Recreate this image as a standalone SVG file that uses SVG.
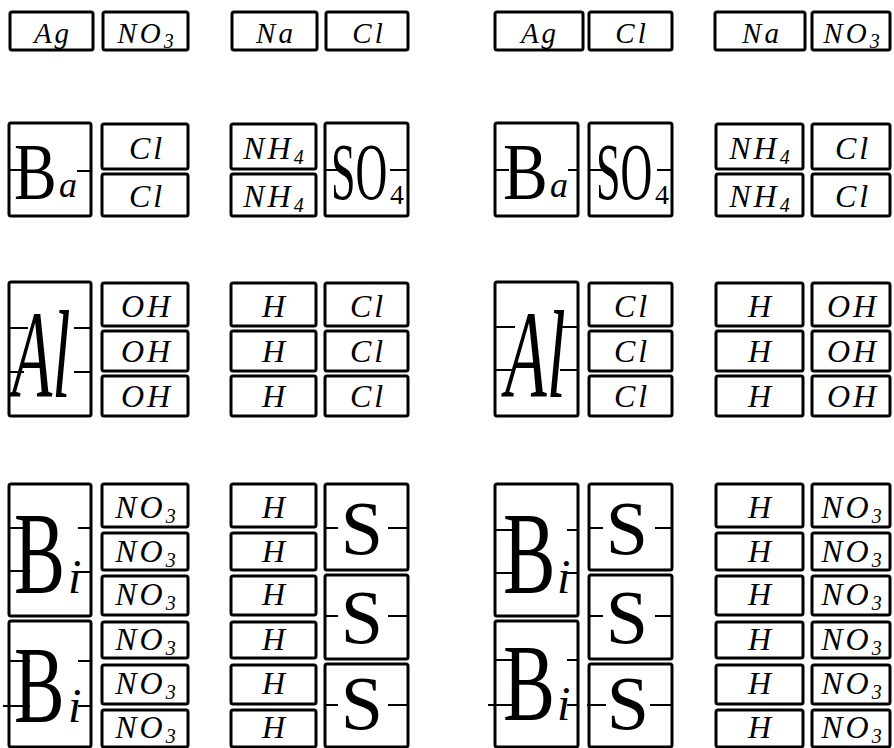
<svg xmlns="http://www.w3.org/2000/svg" width="894" height="748" viewBox="0 0 894 748">
<style>
.b{fill:#fff;stroke:#000;stroke-width:3}
.t{stroke:#000;stroke-width:2;fill:none}
.l{font-family:"Liberation Serif","DejaVu Serif",serif;font-style:italic;font-size:32px;text-anchor:middle;letter-spacing:3px;fill:#000}
.r1{font-size:29px}
.s{font-size:20px}
.g{font-family:"Liberation Serif","DejaVu Serif",serif;fill:#000}
.gi{font-family:"Liberation Serif","DejaVu Serif",serif;font-style:italic;fill:#000}
</style>
<rect width="894" height="748" fill="#fff"/>

<!-- Row 1 -->
<g id="r1-ag-l"><rect class="b" x="10" y="12" width="83" height="38" rx="2"/><text class="l r1" x="53" y="43">Ag</text></g>
<g id="r1-no3-l"><rect class="b" x="103" y="12" width="85" height="38" rx="2"/><text class="l r1" x="147" y="43">NO<tspan class="s" dy="5">3</tspan></text></g>
<g id="r1-na-l"><rect class="b" x="232" y="12" width="85" height="38" rx="2"/><text class="l r1" x="276" y="43">Na</text></g>
<g id="r1-cl-l"><rect class="b" x="326" y="12" width="82" height="38" rx="2"/><text class="l r1" x="369" y="43">Cl</text></g>
<g id="r1-ag-r"><rect class="b" x="495" y="12" width="88" height="38" rx="2"/><text class="l r1" x="540" y="43">Ag</text></g>
<g id="r1-cl-r"><rect class="b" x="589" y="12" width="83" height="38" rx="2"/><text class="l r1" x="632" y="43">Cl</text></g>
<g id="r1-na-r"><rect class="b" x="715" y="12" width="90" height="38" rx="2"/><text class="l r1" x="762" y="43">Na</text></g>
<g id="r1-no3-r"><rect class="b" x="812" y="12" width="78" height="38" rx="2"/><text class="l r1" x="853" y="43">NO<tspan class="s" dy="5">3</tspan></text></g>

<!-- Row 2 left -->
<g id="r2-ba-l"><rect class="b" x="9" y="123" width="82" height="93" rx="2"/>
<text class="g" transform="matrix(0.8 0 0 1 14 199)" font-size="80">B</text>
<text class="gi" x="59" y="197" font-size="36">a</text>
<line class="t" x1="9" y1="170" x2="24" y2="170"/><line class="t" x1="77" y1="171" x2="91" y2="171"/></g>
<g id="r2-cl1-l"><rect class="b" x="102" y="124" width="86" height="45" rx="2"/><text class="l" x="147" y="159">Cl</text></g>
<g id="r2-cl2-l"><rect class="b" x="102" y="174" width="86" height="42" rx="2"/><text class="l" x="147" y="207">Cl</text></g>
<g id="r2-nh4a-l"><rect class="b" x="231" y="124" width="85" height="45" rx="2"/><text class="l" x="275" y="159">NH<tspan class="s" dy="5">4</tspan></text></g>
<g id="r2-nh4b-l"><rect class="b" x="231" y="174" width="85" height="42" rx="2"/><text class="l" x="275" y="207">NH<tspan class="s" dy="5">4</tspan></text></g>
<g id="r2-so4-l"><rect class="b" x="325" y="123" width="83" height="93" rx="2"/>
<text class="g" transform="matrix(0.55 0 0 1 331 199)" font-size="80">SO</text>
<text class="g" x="390" y="204" font-size="28">4</text>
<line class="t" x1="325" y1="170" x2="338" y2="170"/><line class="t" x1="390" y1="170" x2="408" y2="170"/></g>

<!-- Row 2 right -->
<g id="r2-ba-r"><rect class="b" x="495" y="123" width="83" height="93" rx="2"/>
<text class="g" transform="matrix(0.84 0 0 1 503 199)" font-size="80">B</text>
<text class="gi" x="550" y="197" font-size="36">a</text>
<line class="t" x1="495" y1="170" x2="509" y2="170"/><line class="t" x1="568" y1="170" x2="578" y2="170"/></g>
<g id="r2-so4-r"><rect class="b" x="589" y="123" width="83" height="93" rx="2"/>
<text class="g" transform="matrix(0.55 0 0 1 596 199)" font-size="80">SO</text>
<text class="g" x="655" y="204" font-size="28">4</text>
<line class="t" x1="589" y1="170" x2="607" y2="170"/><line class="t" x1="657" y1="170" x2="672" y2="170"/></g>
<g id="r2-nh4a-r"><rect class="b" x="716" y="124" width="87" height="45" rx="2"/><text class="l" x="761" y="159">NH<tspan class="s" dy="5">4</tspan></text></g>
<g id="r2-nh4b-r"><rect class="b" x="716" y="174" width="87" height="42" rx="2"/><text class="l" x="761" y="207">NH<tspan class="s" dy="5">4</tspan></text></g>
<g id="r2-cl1-r"><rect class="b" x="812" y="124" width="78" height="45" rx="2"/><text class="l" x="853" y="159">Cl</text></g>
<g id="r2-cl2-r"><rect class="b" x="812" y="174" width="78" height="42" rx="2"/><text class="l" x="853" y="207">Cl</text></g>

<!-- Row 3 left -->
<g id="r3-al-l"><rect class="b" x="9" y="282" width="82" height="134" rx="2"/>
<text class="gi" transform="matrix(0.53 0 0 1 12 397)" font-size="124">Al</text>
<line class="t" x1="9" y1="328" x2="28" y2="328"/><line class="t" x1="9" y1="372" x2="24" y2="372"/>
<line class="t" x1="74" y1="328" x2="91" y2="328"/><line class="t" x1="74" y1="372" x2="91" y2="372"/></g>
<g id="r3-oh1-l"><rect class="b" x="102" y="283" width="86" height="43" rx="2"/><text class="l" x="147" y="317">OH</text></g>
<g id="r3-oh2-l"><rect class="b" x="102" y="331" width="86" height="40" rx="2"/><text class="l" x="147" y="362">OH</text></g>
<g id="r3-oh3-l"><rect class="b" x="102" y="376" width="86" height="40" rx="2"/><text class="l" x="147" y="407">OH</text></g>
<g id="r3-h1-l"><rect class="b" x="231" y="283" width="85" height="43" rx="2"/><text class="l" x="275" y="317">H</text></g>
<g id="r3-h2-l"><rect class="b" x="231" y="331" width="85" height="40" rx="2"/><text class="l" x="275" y="362">H</text></g>
<g id="r3-h3-l"><rect class="b" x="231" y="376" width="85" height="40" rx="2"/><text class="l" x="275" y="407">H</text></g>
<g id="r3-cl1-l"><rect class="b" x="325" y="283" width="83" height="43" rx="2"/><text class="l" x="368" y="317">Cl</text></g>
<g id="r3-cl2-l"><rect class="b" x="325" y="331" width="83" height="40" rx="2"/><text class="l" x="368" y="362">Cl</text></g>
<g id="r3-cl3-l"><rect class="b" x="325" y="376" width="83" height="40" rx="2"/><text class="l" x="368" y="407">Cl</text></g>

<!-- Row 3 right -->
<g id="r3-al-r"><rect class="b" x="495" y="282" width="83" height="134" rx="2"/>
<text class="gi" transform="matrix(0.55 0 0 1 505 397)" font-size="124">Al</text>
<line class="t" x1="495" y1="327" x2="515" y2="327"/><line class="t" x1="495" y1="370" x2="515" y2="370"/>
<line class="t" x1="560" y1="327" x2="578" y2="327"/><line class="t" x1="560" y1="370" x2="578" y2="370"/></g>
<g id="r3-cl1-r"><rect class="b" x="589" y="283" width="83" height="43" rx="2"/><text class="l" x="632" y="317">Cl</text></g>
<g id="r3-cl2-r"><rect class="b" x="589" y="331" width="83" height="40" rx="2"/><text class="l" x="632" y="362">Cl</text></g>
<g id="r3-cl3-r"><rect class="b" x="589" y="376" width="83" height="40" rx="2"/><text class="l" x="632" y="407">Cl</text></g>
<g id="r3-h1-r"><rect class="b" x="716" y="283" width="87" height="43" rx="2"/><text class="l" x="761" y="317">H</text></g>
<g id="r3-h2-r"><rect class="b" x="716" y="331" width="87" height="40" rx="2"/><text class="l" x="761" y="362">H</text></g>
<g id="r3-h3-r"><rect class="b" x="716" y="376" width="87" height="40" rx="2"/><text class="l" x="761" y="407">H</text></g>
<g id="r3-oh1-r"><rect class="b" x="812" y="283" width="78" height="43" rx="2"/><text class="l" x="853" y="317">OH</text></g>
<g id="r3-oh2-r"><rect class="b" x="812" y="331" width="78" height="40" rx="2"/><text class="l" x="853" y="362">OH</text></g>
<g id="r3-oh3-r"><rect class="b" x="812" y="376" width="78" height="40" rx="2"/><text class="l" x="853" y="407">OH</text></g>

<!-- Row 4 left -->
<g id="r4-bi1-l"><rect class="b" x="9" y="484" width="82" height="132" rx="2"/>
<text class="g" transform="matrix(0.66 0 0 1 14 593)" font-size="116">B</text>
<text class="gi" x="68" y="593" font-size="48">i</text>
<line class="t" x1="8" y1="528" x2="30" y2="528"/><line class="t" x1="8" y1="571" x2="30" y2="571"/>
<line class="t" x1="78" y1="528" x2="91" y2="528"/><line class="t" x1="78" y1="572" x2="91" y2="572"/></g>
<g id="r4-bi2-l"><rect class="b" x="9" y="621" width="82" height="126" rx="2"/>
<text class="g" transform="matrix(0.69 0 0 1 14 722)" font-size="110">B</text>
<text class="gi" x="68" y="722" font-size="48">i</text>
<line class="t" x1="8" y1="661" x2="30" y2="661"/><line class="t" x1="3" y1="706" x2="30" y2="706"/>
<line class="t" x1="78" y1="661" x2="91" y2="661"/><line class="t" x1="78" y1="706" x2="91" y2="706"/></g>
<g id="r4-no3a-l"><rect class="b" x="102" y="484" width="86" height="43" rx="2"/><text class="l" x="147" y="518">NO<tspan class="s" dy="5">3</tspan></text></g>
<g id="r4-no3b-l"><rect class="b" x="102" y="533" width="86" height="37" rx="2"/><text class="l" x="147" y="562">NO<tspan class="s" dy="5">3</tspan></text></g>
<g id="r4-no3c-l"><rect class="b" x="102" y="576" width="86" height="39" rx="2"/><text class="l" x="147" y="605">NO<tspan class="s" dy="5">3</tspan></text></g>
<g id="r4-no3d-l"><rect class="b" x="102" y="622" width="86" height="36" rx="2"/><text class="l" x="147" y="650">NO<tspan class="s" dy="5">3</tspan></text></g>
<g id="r4-no3e-l"><rect class="b" x="102" y="665" width="86" height="39" rx="2"/><text class="l" x="147" y="694">NO<tspan class="s" dy="5">3</tspan></text></g>
<g id="r4-no3f-l"><rect class="b" x="102" y="710" width="86" height="37" rx="2"/><text class="l" x="147" y="738">NO<tspan class="s" dy="5">3</tspan></text></g>
<g id="r4-h1-l"><rect class="b" x="231" y="484" width="85" height="43" rx="2"/><text class="l" x="275" y="518">H</text></g>
<g id="r4-h2-l"><rect class="b" x="231" y="533" width="85" height="37" rx="2"/><text class="l" x="275" y="562">H</text></g>
<g id="r4-h3-l"><rect class="b" x="231" y="576" width="85" height="39" rx="2"/><text class="l" x="275" y="605">H</text></g>
<g id="r4-h4-l"><rect class="b" x="231" y="622" width="85" height="36" rx="2"/><text class="l" x="275" y="650">H</text></g>
<g id="r4-h5-l"><rect class="b" x="231" y="665" width="85" height="39" rx="2"/><text class="l" x="275" y="694">H</text></g>
<g id="r4-h6-l"><rect class="b" x="231" y="710" width="85" height="37" rx="2"/><text class="l" x="275" y="738">H</text></g>
<g id="r4-s1-l"><rect class="b" x="325" y="484" width="83" height="86" rx="2"/><text class="g" x="362" y="554" font-size="76" text-anchor="middle">S</text>
<line class="t" x1="325" y1="528" x2="338" y2="528"/><line class="t" x1="388" y1="528" x2="408" y2="528"/></g>
<g id="r4-s2-l"><rect class="b" x="325" y="575" width="83" height="84" rx="2"/><text class="g" x="362" y="643" font-size="76" text-anchor="middle">S</text>
<line class="t" x1="325" y1="616" x2="338" y2="616"/><line class="t" x1="388" y1="616" x2="408" y2="616"/></g>
<g id="r4-s3-l"><rect class="b" x="325" y="664" width="83" height="83" rx="2"/><text class="g" x="362" y="729" font-size="76" text-anchor="middle">S</text>
<line class="t" x1="325" y1="705" x2="338" y2="705"/><line class="t" x1="388" y1="705" x2="408" y2="705"/></g>

<!-- Row 4 right -->
<g id="r4-bi1-r"><rect class="b" x="495" y="484" width="83" height="132" rx="2"/>
<text class="g" transform="matrix(0.68 0 0 1 503 593)" font-size="116">B</text>
<text class="gi" x="557" y="593" font-size="48">i</text>
<line class="t" x1="495" y1="530" x2="512" y2="530"/><line class="t" x1="495" y1="573" x2="512" y2="573"/>
<line class="t" x1="567" y1="530" x2="578" y2="530"/><line class="t" x1="567" y1="573" x2="578" y2="573"/></g>
<g id="r4-bi2-r"><rect class="b" x="495" y="621" width="83" height="126" rx="2"/>
<text class="g" transform="matrix(0.71 0 0 1 503 720)" font-size="110">B</text>
<text class="gi" x="557" y="720" font-size="48">i</text>
<line class="t" x1="495" y1="660" x2="512" y2="660"/><line class="t" x1="488" y1="705" x2="512" y2="705"/>
<line class="t" x1="567" y1="660" x2="578" y2="660"/><line class="t" x1="567" y1="705" x2="578" y2="705"/></g>
<g id="r4-s1-r"><rect class="b" x="589" y="484" width="83" height="86" rx="2"/><text class="g" x="627" y="554" font-size="76" text-anchor="middle">S</text>
<line class="t" x1="589" y1="528" x2="603" y2="528"/><line class="t" x1="655" y1="528" x2="672" y2="528"/></g>
<g id="r4-s2-r"><rect class="b" x="589" y="575" width="83" height="84" rx="2"/><text class="g" x="627" y="643" font-size="76" text-anchor="middle">S</text>
<line class="t" x1="589" y1="616" x2="603" y2="616"/><line class="t" x1="655" y1="616" x2="672" y2="616"/></g>
<g id="r4-s3-r"><rect class="b" x="589" y="664" width="83" height="83" rx="2"/><text class="g" x="628" y="729" font-size="76" text-anchor="middle">S</text>
<line class="t" x1="587" y1="705" x2="606" y2="705"/><line class="t" x1="650" y1="705" x2="672" y2="705"/></g>
<g id="r4-h1-r"><rect class="b" x="716" y="484" width="87" height="43" rx="2"/><text class="l" x="761" y="518">H</text></g>
<g id="r4-h2-r"><rect class="b" x="716" y="533" width="87" height="37" rx="2"/><text class="l" x="761" y="562">H</text></g>
<g id="r4-h3-r"><rect class="b" x="716" y="576" width="87" height="39" rx="2"/><text class="l" x="761" y="605">H</text></g>
<g id="r4-h4-r"><rect class="b" x="716" y="622" width="87" height="36" rx="2"/><text class="l" x="761" y="650">H</text></g>
<g id="r4-h5-r"><rect class="b" x="716" y="665" width="87" height="39" rx="2"/><text class="l" x="761" y="694">H</text></g>
<g id="r4-h6-r"><rect class="b" x="716" y="710" width="87" height="37" rx="2"/><text class="l" x="761" y="738">H</text></g>
<g id="r4-no3a-r"><rect class="b" x="812" y="484" width="78" height="43" rx="2"/><text class="l" x="853" y="518">NO<tspan class="s" dy="5">3</tspan></text></g>
<g id="r4-no3b-r"><rect class="b" x="812" y="533" width="78" height="37" rx="2"/><text class="l" x="853" y="562">NO<tspan class="s" dy="5">3</tspan></text></g>
<g id="r4-no3c-r"><rect class="b" x="812" y="576" width="78" height="39" rx="2"/><text class="l" x="853" y="605">NO<tspan class="s" dy="5">3</tspan></text></g>
<g id="r4-no3d-r"><rect class="b" x="812" y="622" width="78" height="36" rx="2"/><text class="l" x="853" y="650">NO<tspan class="s" dy="5">3</tspan></text></g>
<g id="r4-no3e-r"><rect class="b" x="812" y="665" width="78" height="39" rx="2"/><text class="l" x="853" y="694">NO<tspan class="s" dy="5">3</tspan></text></g>
<g id="r4-no3f-r"><rect class="b" x="812" y="710" width="78" height="37" rx="2"/><text class="l" x="853" y="738">NO<tspan class="s" dy="5">3</tspan></text></g>
</svg>
